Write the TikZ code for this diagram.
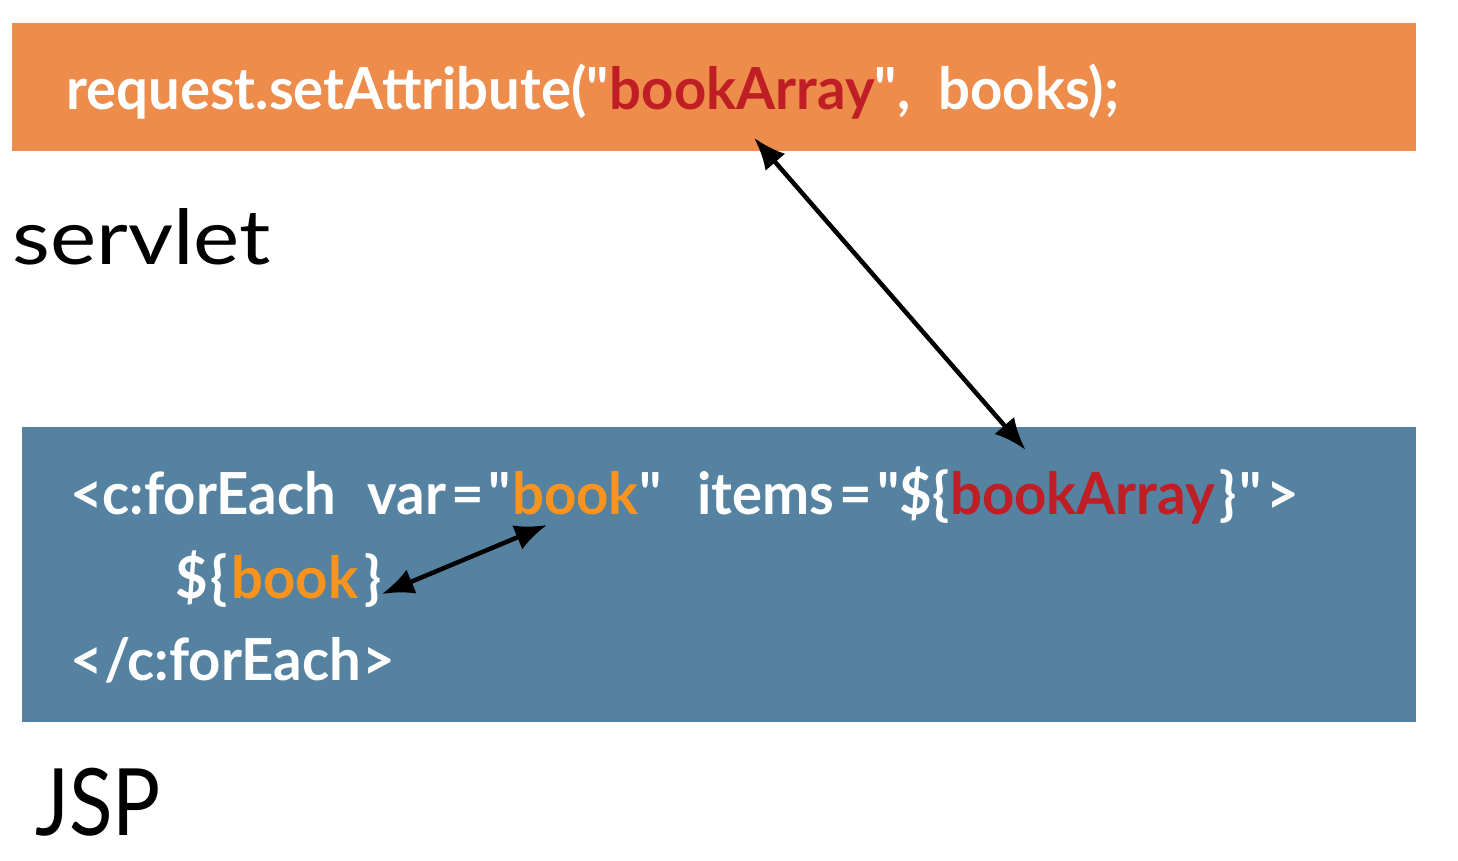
\documentclass[tikz,border=0pt]{standalone}
\usepackage{fontspec}
\setmainfont{Lato}[FakeStretch=0.97]
\newfontfamily\handfont{Lato}[FakeStretch=1.15]
\usepackage{tikz}
\usetikzlibrary{arrows.meta, positioning}
\definecolor{servletorange}{HTML}{EE8C4B}
\definecolor{jspblue}{HTML}{5482A0}
\definecolor{keyred}{HTML}{BE1E24}
\definecolor{varorange}{HTML}{F7931E}
\newcommand{\strq}{\textquotedbl}
\newcommand{\wideq}{\kern5pt=\kern5pt}

\begin{document}
\begin{tikzpicture}[x=1pt, y=1pt,
	code/.style={font=\fontsize{58}{60}\selectfont\bfseries, text=white, inner sep=0pt, anchor=base west},
	pair/.style={{Latex[length=32pt,width=26pt]}-{Latex[length=32pt,width=26pt]}, line width=4.5pt, black}]

		\useasboundingbox (0,0) rectangle (1458,860);

		% Servlet
		\fill[servletorange] (12,709) rectangle (1416,837);
		\node[code] (reqA) at (66,750) {request.setAttribute(\strq};
		\node[code, text=keyred] (arrA) at (reqA.base east) {bookArray};
		\node[code] (reqB) at (arrA.base east) {\strq,\ \ books);};
		\node[font=\handfont\fontsize{76}{80}\selectfont, inner sep=0pt, anchor=base west] (servletlbl) at (12,595) {servlet};

		% JSP
		\fill[jspblue] (22,138) rectangle (1416,433);
		\node[code] (feA) at (70,345) {<c:forEach\ \ \kern4pt var\wideq\strq};
		\node[code, text=varorange] (feVar) at (feA.base east) {book};
		\node[code] (feB) at (feVar.base east) {\strq\ \ \kern8pt items\wideq\strq\$\{};
		\node[code, text=keyred] (feArr) at (feB.base east) {bookArray};
		\node[code] (feC) at (feArr.base east) {\kern4pt\}\kern3pt\strq\kern4pt>};

		\node[code] (elA) at (175,262) {\$\kern3pt\{\kern3pt};
		\node[code, text=varorange] (elVar) at (elA.base east) {book};
		\node[code] (elB) at (elVar.base east) {\kern6pt\}};

		\node[code] (endfe) at (70,180) {<\kern1.5pt/c:forEach\kern1.5pt>};
		\node[font=\handfont\fontsize{93}{96}\selectfont, inner sep=0pt, anchor=base west] (jsplbl) at (35,25) {\scalebox{0.75}[1]{JSP}};

		% Strzalki
		\draw[pair] ([xshift=12,yshift=-28]arrA.base) -- ([xshift=-57,yshift=22]feArr.north);
		\draw[pair] ([yshift=4]elB.base east) -- ([xshift=35,yshift=-10]feVar.base west);

\end{tikzpicture}
\end{document}
